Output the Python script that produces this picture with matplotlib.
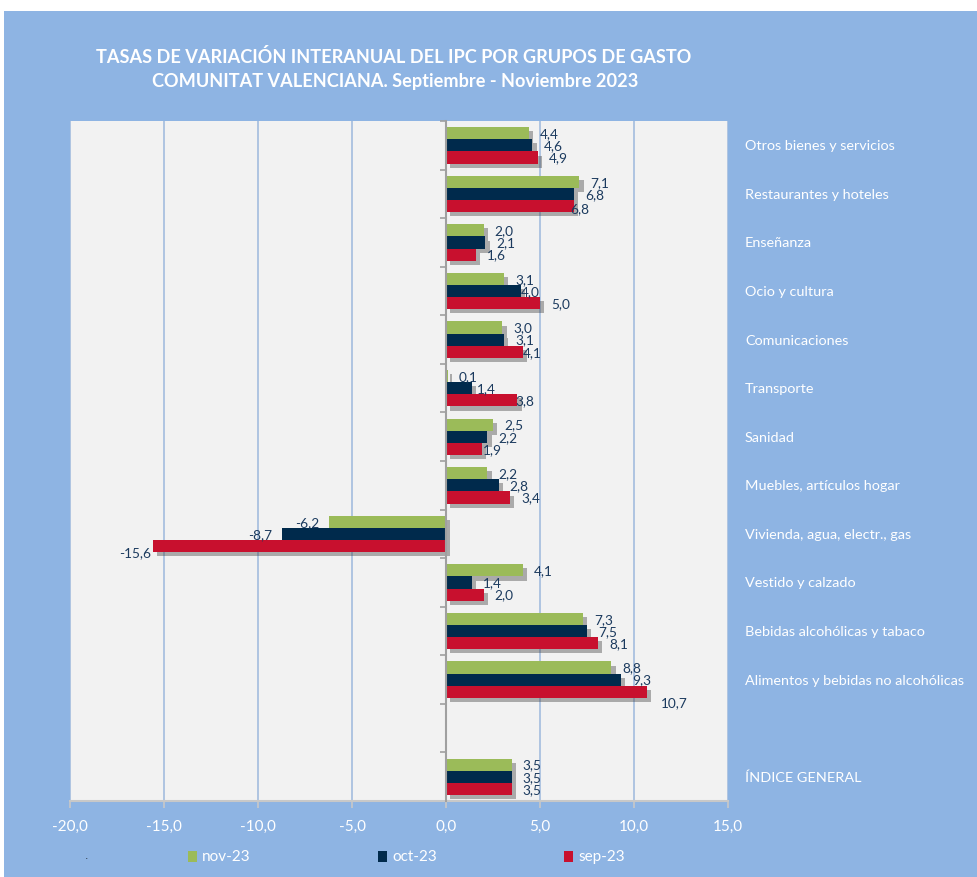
import matplotlib.pyplot as plt
import matplotlib.patheffects as pe
from matplotlib.patches import Rectangle
from matplotlib.transforms import blended_transform_factory

plt.rcParams['font.family'] = ['Lato', 'DejaVu Sans']

# Data (top to bottom as in the chart; "" is the empty gap row)
categories = ["Otros bienes y servicios", "Restaurantes y hoteles", "Enseñanza",
              "Ocio y cultura", "Comunicaciones", "Transporte", "Sanidad",
              "Muebles, artículos hogar", "Vivienda, agua, electr., gas",
              "Vestido y calzado", "Bebidas alcohólicas y tabaco",
              "Alimentos y bebidas no alcohólicas", "", "ÍNDICE GENERAL"]
nov23 = [4.4, 7.1, 2.0, 3.1, 3.0, 0.1, 2.5, 2.2, -6.2, 4.1, 7.3, 8.8, None, 3.5]
oct23 = [4.6, 6.8, 2.1, 4.0, 3.1, 1.4, 2.2, 2.8, -8.7, 1.4, 7.5, 9.3, None, 3.5]
sep23 = [4.9, 6.8, 1.6, 5.0, 4.1, 3.8, 1.9, 3.4, -15.6, 2.0, 8.1, 10.7, None, 3.5]
series_names = ["nov-23", "oct-23", "sep-23"]
xticks = [-20, -15, -10, -5, 0, 5, 10, 15]

colors = ["#9BBB59", "#002A4C", "#C8102E"]
bg = "#8EB4E3"
label_color = "#1B3A5E"

# manual nudges of some data labels, in pixels: (row, series) -> (dx, dy)
nudges = {(1, 2): (-15, -2), (3, 1): (-11, 0), (4, 2): (-11, 0),
          (5, 1): (-6, 0), (5, 2): (-13, 0), (6, 2): (-10, 0),
          (11, 2): (3, -10), (8, 2): (8, -6)}

fig = plt.figure(figsize=(9.77, 8.78), dpi=100)
fig.patch.set_facecolor("white")
fig.patches.append(Rectangle((4 / 977, 0), 1, 1 - 12 / 878, transform=fig.transFigure,
                             facecolor=bg, edgecolor="none", zorder=-10))

ax = fig.add_axes([70 / 977, 1 - 802 / 878, 658 / 977, 680 / 878])
ax.set_facecolor("#F2F2F2")
ax.set_xlim(-20, 15)
ax.set_ylim(len(categories), 0)

h = 0.25
shadow = [pe.SimplePatchShadow(offset=(3, -3), shadow_rgbFace="#404040", alpha=0.4), pe.Normal()]
for s, vals in enumerate([nov23, oct23, sep23]):
    for i, v in enumerate(vals):
        if v is None:
            continue
        yc = i + 0.5 + (s - 1) * h
        bar = ax.barh(yc, v, height=h, color=colors[s], zorder=3)
        for p in bar.patches:
            p.set_path_effects(shadow)
        dx, dy = nudges.get((i, s), (0, 0))
        txt = f"{v:.1f}".replace(".", ",")
        if v >= 0:
            ax.annotate(txt, (v, yc), xytext=(11 + dx, dy),
                        textcoords="offset pixels", ha="left", va="center",
                        fontsize=9.8, color=label_color, zorder=5)
        else:
            ax.annotate(txt, (v, yc), xytext=(-10 + dx, dy),
                        textcoords="offset pixels", ha="right", va="center",
                        fontsize=9.8, color=label_color, zorder=5)

# grid
for x in xticks:
    ax.axvline(x, color="#A9C1E0", lw=1.3, zorder=1)

# axes styling
for side in ["top", "right"]:
    ax.spines[side].set_visible(False)
ax.spines["left"].set_position(("data", 0))
ax.spines["left"].set_color("#A0A0A0")
ax.spines["left"].set_linewidth(1.5)
ax.spines["left"].set_zorder(4)
ax.spines["bottom"].set_color("#C8C8C8")
ax.spines["bottom"].set_linewidth(1.5)
ax.set_yticks(range(len(categories) + 1))
ax.set_yticklabels([])
ax.tick_params(axis="y", direction="out", length=4, color="#A0A0A0", width=1.2)
ax.set_xticks(xticks)
ax.set_xticklabels([f"{x:.1f}".replace(".", ",") for x in xticks])
ax.tick_params(axis="x", direction="out", length=5, color="#C8C8C8", width=1.2,
               labelcolor="white", labelsize=11, pad=8)

# category labels at right
tr = blended_transform_factory(ax.transAxes, ax.transData)
for i, c in enumerate(categories):
    ax.text(1 + 17 / 658, i + 0.5, c, transform=tr, ha="left", va="center",
            fontsize=10.4, color="white")

# title
fig.text(394 / 977, 1 - 57 / 878, "TASAS DE VARIACIÓN INTERANUAL DEL IPC POR GRUPOS DE GASTO",
         ha="center", va="center", fontsize=13.1, fontweight="bold", color="white")
fig.text(395 / 977, 1 - 82 / 878, "COMUNITAT VALENCIANA. Septiembre - Noviembre 2023",
         ha="center", va="center", fontsize=13.1, fontweight="bold", color="white")

# legend drawn by hand
fig.text(86 / 977, 1 - 857 / 878, ".", fontsize=5, color="black", ha="center", va="center")
legend_x = [188, 378, 564]
for x, name, col in zip(legend_x, series_names, colors):
    fig.patches.append(Rectangle((x / 977, 1 - 863 / 878), 9 / 977, 11 / 878,
                                 transform=fig.transFigure, facecolor=col, edgecolor="none"))
    fig.text((x + 14) / 977, 1 - 857 / 878, name, ha="left", va="center",
             fontsize=11, color="white")

plt.savefig("out.png", dpi=100, facecolor=fig.get_facecolor())
